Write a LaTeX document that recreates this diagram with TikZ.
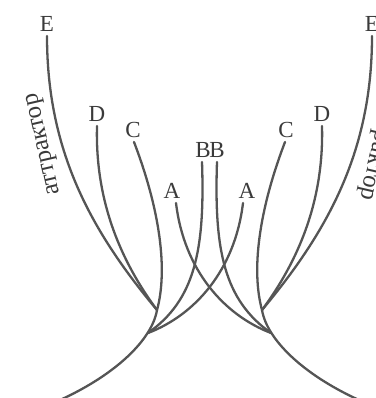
\documentclass[tikz,border=0pt]{standalone}
\usepackage{fontspec}
\setmainfont{Liberation Serif}
\definecolor{linegray}{HTML}{555555}
\definecolor{textgray}{HTML}{3A3A3A}
\begin{document}
\begin{tikzpicture}[x=1pt,y=-1pt,
  branch/.style={draw=linegray, line width=2.3pt, line cap=round},
  lbl/.style={text=textgray, font=\fontsize{23}{23}\selectfont, inner sep=4pt, anchor=south},
  word/.style={text=textgray, font=\fontsize{25}{25}\selectfont, inner sep=0pt}]
\useasboundingbox (0,0) rectangle (375,398);
% labels
\node[lbl] (eL) at (47,36) {E};
\node[lbl] (dL) at (97,126) {D};
\node[lbl] (cL) at (133,142) {C};
\node[lbl] (aA) at (172,203) {A};
\node[lbl] (bA) at (203,162) {B};
\node[lbl] (bB) at (217,162) {B};
\node[lbl] (aB) at (247,203) {A};
\node[lbl] (cR) at (286,142) {C};
\node[lbl] (dR) at (322,126) {D};
\node[lbl] (eR) at (372,36) {E};
\node[word, rotate=103] (wL) at (45,144) {аттрактор};
\node[word, rotate=-103] (wR) at (375,149) {аттрактор};
% junctions
\coordinate (jL) at (157,310);
\coordinate (kL) at (148,333);
\coordinate (rL) at (60,400);
\coordinate (jR) at (262,310);
\coordinate (kR) at (271,333);
\coordinate (rR) at (359,400);
% left tree
\draw[branch] (eL.south) .. controls (47,150) and (90,230) .. (jL);
\draw[branch] (dL.south) .. controls (95,200) and (120,260) .. (jL);
\draw[branch] ([xshift=1pt]cL.south) .. controls (160,210) and (168,270) .. (jL);
\draw[branch] (jL) .. controls (152,340) and (115,375) .. (rL);
\draw[branch] ([xshift=-1pt]bA.south) .. controls (205,250) and (195,300) .. (kL);
\draw[branch] ([xshift=-4pt]aB.south) .. controls (235,270) and (195,315) .. (kL);
% right tree
\draw[branch] (eR.south) .. controls (372,150) and (329,230) .. (jR);
\draw[branch] (dR.south) .. controls (324,200) and (299,260) .. (jR);
\draw[branch] ([xshift=-1pt]cR.south) .. controls (259,210) and (251,270) .. (jR);
\draw[branch] (jR) .. controls (267,340) and (304,375) .. (rR);
\draw[branch] (bB.south) .. controls (214,250) and (224,300) .. (kR);
\draw[branch] ([xshift=4pt]aA.south) .. controls (184,270) and (224,315) .. (kR);
\end{tikzpicture}
\end{document}
